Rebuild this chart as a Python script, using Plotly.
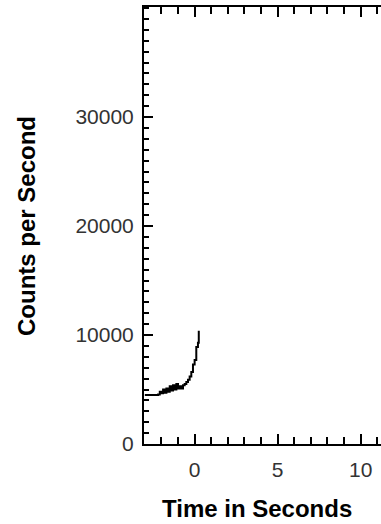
import plotly.graph_objects as go

# Data
time_s = [-3.0, -2.9, -2.8, -2.7, -2.6, -2.5, -2.4, -2.3, -2.2, -2.1, -2.0,
          -1.9, -1.8, -1.7, -1.6, -1.5, -1.4, -1.3, -1.2, -1.1, -1.0,
          -0.9, -0.8, -0.7, -0.6, -0.5, -0.4, -0.3, -0.2, -0.1, 0.0,
          0.1, 0.2, 0.25]
counts = [4500, 4500, 4500, 4500, 4500, 4500, 4500, 4500, 4550, 4800, 4650,
          5000, 4700, 5100, 4800, 5300, 4900, 5400, 5000, 5500, 5100,
          5300, 5100, 5400, 5500, 5700, 5900, 6200, 6600, 7300, 7700,
          8900, 9300, 10400]

x_ticks = [0, 5, 10]
y_ticks = [0, 10000, 20000, 30000]

fig = go.Figure()
fig.add_trace(go.Scatter(x=time_s, y=counts, mode="lines",
                         line=dict(color="black", width=2, shape="hv"),
                         showlegend=False))

W, H = 381, 524
L, T, B, R = 144, 7, 80, 0

fig.update_layout(
    width=W, height=H,
    margin=dict(l=L, r=R, t=T, b=B),
    paper_bgcolor="white", plot_bgcolor="white",
    font=dict(family="Liberation Sans, Arial, sans-serif", color="#333"),
)
fig.update_xaxes(
    range=[-3.05, -3.05 + (W - L - R) / 16.6], tickvals=x_ticks, ticktext=[str(v) for v in x_ticks],
    ticks="inside", ticklen=10, tickwidth=1.5, tickcolor="black",
    minor=dict(dtick=1, tick0=0, ticks="inside", ticklen=7, tickwidth=1.5,
               tickcolor="black", showgrid=False),
    showline=True, linecolor="black", linewidth=2, mirror="allticks",
    showgrid=False, zeroline=False,
    tickfont=dict(size=21, color="#333"), ticklabelstandoff=6,
)
fig.update_yaxes(
    range=[0, 40100], tickvals=y_ticks, ticktext=[str(v) for v in y_ticks],
    ticks="inside", ticklen=9, tickwidth=1.5, tickcolor="black",
    minor=dict(dtick=1000, tick0=0, ticks="inside", ticklen=5, tickwidth=1.5,
               tickcolor="black", showgrid=False),
    showline=True, linecolor="black", linewidth=2, mirror=False,
    showgrid=False, zeroline=False,
    tickfont=dict(size=21, color="#333"), ticklabelstandoff=4,
)

pw = W - L - R
ph = H - T - B
fig.add_annotation(text="<b>Time in Seconds</b>", xref="paper", yref="paper",
                   x=(256.5 - L) / pw, y=-(508 - (H - B)) / ph,
                   xanchor="center", yanchor="middle", showarrow=False,
                   font=dict(size=24, color="black", family="Liberation Sans, Arial, sans-serif"))
fig.add_annotation(text="<b>Counts per Second</b>", xref="paper", yref="paper",
                   x=(26 - L) / pw, y=((H - B) - 226) / ph, textangle=-90,
                   xanchor="center", yanchor="middle", showarrow=False,
                   font=dict(size=24, color="black", family="Liberation Sans, Arial, sans-serif"))

fig.write_html("out.html", config={"displayModeBar": False},
               post_script="document.documentElement.style.overflow='hidden';document.body.style.margin='0';document.body.style.overflow='hidden';")
